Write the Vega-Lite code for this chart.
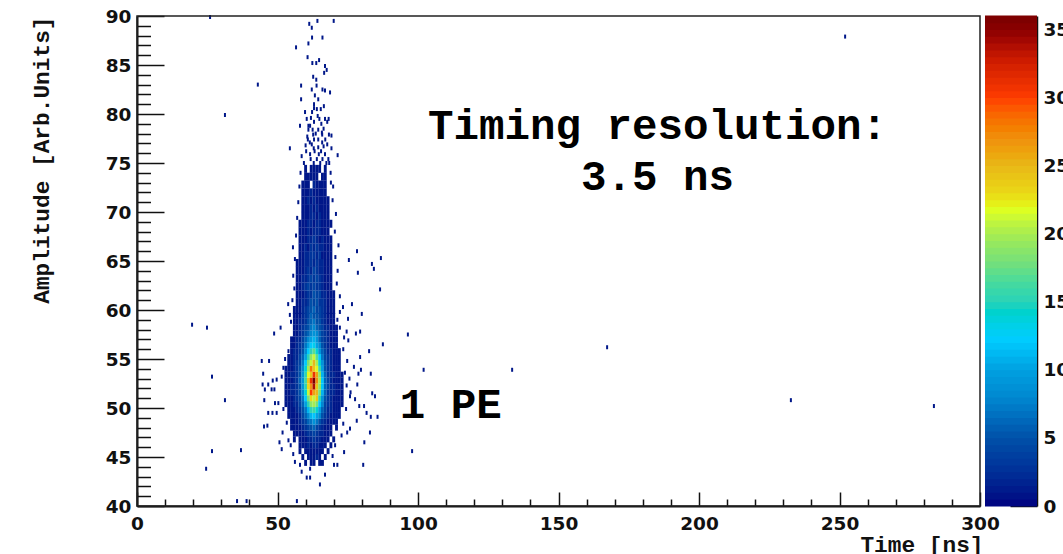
{"$schema":"https://vega.github.io/schema/vega-lite/v6.json","background":"white","padding":{"left":30,"top":7,"right":0,"bottom":0},"bounds":"flush","spacing":5,"config":{"view":{"stroke":null},"axis":{"labelFont":"DejaVu Sans","labelFontWeight":"bold","labelFontSize":18.5,"labelColor":"#111","titleFont":"Liberation Mono","titleFontWeight":"bold","titleFontSize":22.8,"titleColor":"#111","domainColor":"#111","tickColor":"#111","grid":false}},"datasets":{"upper":[
{"t":56,"a":60,"c":1},{"t":57,"a":60,"c":1},{"t":58,"a":60,"c":1},{"t":59,"a":60,"c":2},{"t":60,"a":60,"c":3},{"t":61,"a":60,"c":4},{"t":62,"a":60,"c":5},{"t":63,"a":60,"c":6},{"t":64,"a":60,"c":4},{"t":65,"a":60,"c":4},{"t":66,"a":60,"c":3},{"t":67,"a":60,"c":2},{"t":68,"a":60,"c":1},{"t":69,"a":60,"c":1},{"t":70,"a":60,"c":1},
{"t":57,"a":60.8,"c":1},{"t":58,"a":60.8,"c":1},{"t":59,"a":60.8,"c":2},{"t":60,"a":60.8,"c":2},{"t":61,"a":60.8,"c":3},{"t":62,"a":60.8,"c":5},{"t":63,"a":60.8,"c":4},{"t":64,"a":60.8,"c":5},{"t":65,"a":60.8,"c":3},{"t":66,"a":60.8,"c":3},{"t":67,"a":60.8,"c":2},{"t":68,"a":60.8,"c":1},{"t":69,"a":60.8,"c":1},{"t":70,"a":60.8,"c":1},
{"t":57,"a":61.6,"c":1},{"t":58,"a":61.6,"c":1},{"t":59,"a":61.6,"c":1},{"t":60,"a":61.6,"c":2},{"t":61,"a":61.6,"c":3},{"t":62,"a":61.6,"c":3},{"t":63,"a":61.6,"c":5},{"t":64,"a":61.6,"c":4},{"t":65,"a":61.6,"c":4},{"t":66,"a":61.6,"c":2},{"t":67,"a":61.6,"c":2},{"t":68,"a":61.6,"c":1},{"t":69,"a":61.6,"c":1},{"t":70,"a":61.6,"c":1},
{"t":57,"a":62.4,"c":1},{"t":58,"a":62.4,"c":1},{"t":59,"a":62.4,"c":2},{"t":60,"a":62.4,"c":3},{"t":61,"a":62.4,"c":4},{"t":62,"a":62.4,"c":3},{"t":63,"a":62.4,"c":4},{"t":64,"a":62.4,"c":3},{"t":65,"a":62.4,"c":3},{"t":66,"a":62.4,"c":2},{"t":67,"a":62.4,"c":1},{"t":68,"a":62.4,"c":1},{"t":69,"a":62.4,"c":1},
{"t":57,"a":63.2,"c":1},{"t":58,"a":63.2,"c":1},{"t":59,"a":63.2,"c":2},{"t":60,"a":63.2,"c":2},{"t":61,"a":63.2,"c":3},{"t":62,"a":63.2,"c":4},{"t":63,"a":63.2,"c":3},{"t":64,"a":63.2,"c":4},{"t":65,"a":63.2,"c":3},{"t":66,"a":63.2,"c":2},{"t":67,"a":63.2,"c":1},{"t":68,"a":63.2,"c":1},{"t":69,"a":63.2,"c":1},
{"t":57,"a":64,"c":1},{"t":58,"a":64,"c":1},{"t":59,"a":64,"c":1},{"t":60,"a":64,"c":2},{"t":61,"a":64,"c":3},{"t":62,"a":64,"c":2},{"t":63,"a":64,"c":4},{"t":64,"a":64,"c":3},{"t":65,"a":64,"c":2},{"t":66,"a":64,"c":2},{"t":67,"a":64,"c":1},{"t":68,"a":64,"c":1},{"t":69,"a":64,"c":1},
{"t":57,"a":64.8,"c":1},{"t":58,"a":64.8,"c":1},{"t":59,"a":64.8,"c":1},{"t":60,"a":64.8,"c":2},{"t":61,"a":64.8,"c":2},{"t":62,"a":64.8,"c":3},{"t":63,"a":64.8,"c":2},{"t":64,"a":64.8,"c":3},{"t":65,"a":64.8,"c":2},{"t":66,"a":64.8,"c":2},{"t":67,"a":64.8,"c":1},{"t":68,"a":64.8,"c":1},{"t":69,"a":64.8,"c":1},
{"t":58,"a":65.6,"c":1},{"t":59,"a":65.6,"c":1},{"t":60,"a":65.6,"c":2},{"t":61,"a":65.6,"c":2},{"t":62,"a":65.6,"c":3},{"t":63,"a":65.6,"c":3},{"t":64,"a":65.6,"c":2},{"t":65,"a":65.6,"c":3},{"t":66,"a":65.6,"c":1},{"t":67,"a":65.6,"c":1},{"t":68,"a":65.6,"c":1},{"t":69,"a":65.6,"c":1},
{"t":58,"a":66.4,"c":1},{"t":59,"a":66.4,"c":1},{"t":60,"a":66.4,"c":2},{"t":61,"a":66.4,"c":1},{"t":62,"a":66.4,"c":3},{"t":63,"a":66.4,"c":2},{"t":64,"a":66.4,"c":3},{"t":65,"a":66.4,"c":2},{"t":66,"a":66.4,"c":2},{"t":67,"a":66.4,"c":1},{"t":68,"a":66.4,"c":1},{"t":69,"a":66.4,"c":1},
{"t":58,"a":67.2,"c":1},{"t":59,"a":67.2,"c":1},{"t":60,"a":67.2,"c":1},{"t":61,"a":67.2,"c":2},{"t":62,"a":67.2,"c":2},{"t":63,"a":67.2,"c":3},{"t":64,"a":67.2,"c":2},{"t":65,"a":67.2,"c":1},{"t":66,"a":67.2,"c":2},{"t":67,"a":67.2,"c":1},{"t":68,"a":67.2,"c":1},{"t":69,"a":67.2,"c":1},
{"t":58,"a":68,"c":1},{"t":59,"a":68,"c":1},{"t":60,"a":68,"c":1},{"t":61,"a":68,"c":2},{"t":62,"a":68,"c":1},{"t":63,"a":68,"c":2},{"t":64,"a":68,"c":2},{"t":65,"a":68,"c":2},{"t":66,"a":68,"c":1},{"t":67,"a":68,"c":1},{"t":68,"a":68,"c":1},
{"t":58,"a":68.8,"c":1},{"t":59,"a":68.8,"c":1},{"t":60,"a":68.8,"c":1},{"t":61,"a":68.8,"c":2},{"t":62,"a":68.8,"c":2},{"t":63,"a":68.8,"c":1},{"t":64,"a":68.8,"c":2},{"t":65,"a":68.8,"c":2},{"t":66,"a":68.8,"c":1},{"t":67,"a":68.8,"c":1},{"t":68,"a":68.8,"c":1},{"t":69,"a":68.8,"c":1},
{"t":59,"a":69.6,"c":1},{"t":60,"a":69.6,"c":1},{"t":61,"a":69.6,"c":1},{"t":62,"a":69.6,"c":2},{"t":63,"a":69.6,"c":2},{"t":64,"a":69.6,"c":1},{"t":65,"a":69.6,"c":2},{"t":66,"a":69.6,"c":1},{"t":67,"a":69.6,"c":1},{"t":68,"a":69.6,"c":1},
{"t":59,"a":70.4,"c":1},{"t":60,"a":70.4,"c":1},{"t":61,"a":70.4,"c":1},{"t":62,"a":70.4,"c":2},{"t":63,"a":70.4,"c":1},{"t":64,"a":70.4,"c":2},{"t":65,"a":70.4,"c":1},{"t":66,"a":70.4,"c":1},{"t":67,"a":70.4,"c":1},{"t":68,"a":70.4,"c":1},
{"t":59,"a":71.2,"c":1},{"t":60,"a":71.2,"c":1},{"t":61,"a":71.2,"c":2},{"t":62,"a":71.2,"c":1},{"t":63,"a":71.2,"c":2},{"t":64,"a":71.2,"c":1},{"t":65,"a":71.2,"c":1},{"t":66,"a":71.2,"c":1},{"t":67,"a":71.2,"c":1},{"t":68,"a":71.2,"c":1},
{"t":59,"a":72,"c":1},{"t":60,"a":72,"c":1},{"t":61,"a":72,"c":1},{"t":62,"a":72,"c":2},{"t":63,"a":72,"c":1},{"t":64,"a":72,"c":1},{"t":65,"a":72,"c":1},{"t":66,"a":72,"c":1},{"t":67,"a":72,"c":1},
{"t":59,"a":72.8,"c":1},{"t":60,"a":72.8,"c":1},{"t":61,"a":72.8,"c":1},{"t":63,"a":72.8,"c":2},{"t":64,"a":72.8,"c":1},{"t":65,"a":72.8,"c":1},{"t":66,"a":72.8,"c":1},{"t":67,"a":72.8,"c":1},
{"t":60,"a":73.6,"c":1},{"t":61,"a":73.6,"c":1},{"t":62,"a":73.6,"c":1},{"t":63,"a":73.6,"c":1},{"t":64,"a":73.6,"c":1},{"t":66,"a":73.6,"c":1},{"t":67,"a":73.6,"c":1},
{"t":60,"a":74.4,"c":1},{"t":62,"a":74.4,"c":1},{"t":63,"a":74.4,"c":1},{"t":64,"a":74.4,"c":1},{"t":65,"a":74.4,"c":1},{"t":67,"a":74.4,"c":1}
],"core":[
{"t":60,"a":44.4,"c":1},{"t":62,"a":44.4,"c":1},{"t":63,"a":44.4,"c":1},{"t":65,"a":44.4,"c":1},{"t":66,"a":44.4,"c":1},
{"t":59,"a":45,"c":1},{"t":61,"a":45,"c":1},{"t":62,"a":45,"c":1},{"t":63,"a":45,"c":1},{"t":64,"a":45,"c":2},{"t":65,"a":45,"c":1},{"t":67,"a":45,"c":1},
{"t":58,"a":45.6,"c":1},{"t":60,"a":45.6,"c":1},{"t":61,"a":45.6,"c":1},{"t":62,"a":45.6,"c":1},{"t":63,"a":45.6,"c":1},{"t":64,"a":45.6,"c":1},{"t":65,"a":45.6,"c":1},{"t":66,"a":45.6,"c":1},{"t":68,"a":45.6,"c":1},
{"t":58,"a":46.2,"c":1},{"t":59,"a":46.2,"c":1},{"t":60,"a":46.2,"c":1},{"t":61,"a":46.2,"c":2},{"t":62,"a":46.2,"c":1},{"t":63,"a":46.2,"c":2},{"t":64,"a":46.2,"c":2},{"t":65,"a":46.2,"c":1},{"t":66,"a":46.2,"c":1},{"t":67,"a":46.2,"c":1},{"t":69,"a":46.2,"c":1},
{"t":56,"a":46.8,"c":1},{"t":58,"a":46.8,"c":1},{"t":59,"a":46.8,"c":1},{"t":60,"a":46.8,"c":1},{"t":61,"a":46.8,"c":2},{"t":62,"a":46.8,"c":2},{"t":63,"a":46.8,"c":3},{"t":64,"a":46.8,"c":2},{"t":65,"a":46.8,"c":2},{"t":66,"a":46.8,"c":1},{"t":67,"a":46.8,"c":1},{"t":68,"a":46.8,"c":1},{"t":70,"a":46.8,"c":1},
{"t":56,"a":47.4,"c":1},{"t":57,"a":47.4,"c":1},{"t":58,"a":47.4,"c":1},{"t":59,"a":47.4,"c":1},{"t":60,"a":47.4,"c":2},{"t":61,"a":47.4,"c":3},{"t":62,"a":47.4,"c":3},{"t":63,"a":47.4,"c":4},{"t":64,"a":47.4,"c":3},{"t":65,"a":47.4,"c":2},{"t":66,"a":47.4,"c":2},{"t":67,"a":47.4,"c":1},{"t":68,"a":47.4,"c":1},{"t":69,"a":47.4,"c":1},
{"t":55,"a":48,"c":1},{"t":56,"a":48,"c":1},{"t":57,"a":48,"c":1},{"t":58,"a":48,"c":1},{"t":59,"a":48,"c":2},{"t":60,"a":48,"c":3},{"t":61,"a":48,"c":4},{"t":62,"a":48,"c":5},{"t":63,"a":48,"c":6},{"t":64,"a":48,"c":4},{"t":65,"a":48,"c":3},{"t":66,"a":48,"c":2},{"t":67,"a":48,"c":1},{"t":68,"a":48,"c":1},{"t":69,"a":48,"c":1},{"t":71,"a":48,"c":1},
{"t":55,"a":48.6,"c":1},{"t":56,"a":48.6,"c":1},{"t":57,"a":48.6,"c":1},{"t":58,"a":48.6,"c":2},{"t":59,"a":48.6,"c":3},{"t":60,"a":48.6,"c":4},{"t":61,"a":48.6,"c":6},{"t":62,"a":48.6,"c":7},{"t":63,"a":48.6,"c":9},{"t":64,"a":48.6,"c":7},{"t":65,"a":48.6,"c":5},{"t":66,"a":48.6,"c":3},{"t":67,"a":48.6,"c":2},{"t":68,"a":48.6,"c":1},{"t":69,"a":48.6,"c":1},{"t":70,"a":48.6,"c":1},{"t":71,"a":48.6,"c":1},
{"t":54,"a":49.2,"c":1},{"t":55,"a":49.2,"c":1},{"t":56,"a":49.2,"c":1},{"t":57,"a":49.2,"c":1},{"t":58,"a":49.2,"c":2},{"t":59,"a":49.2,"c":4},{"t":60,"a":49.2,"c":6},{"t":61,"a":49.2,"c":8},{"t":62,"a":49.2,"c":11},{"t":63,"a":49.2,"c":12},{"t":64,"a":49.2,"c":10},{"t":65,"a":49.2,"c":8},{"t":66,"a":49.2,"c":5},{"t":67,"a":49.2,"c":3},{"t":68,"a":49.2,"c":2},{"t":69,"a":49.2,"c":1},{"t":70,"a":49.2,"c":1},{"t":71,"a":49.2,"c":1},{"t":72,"a":49.2,"c":1},
{"t":54,"a":49.8,"c":1},{"t":55,"a":49.8,"c":1},{"t":56,"a":49.8,"c":1},{"t":57,"a":49.8,"c":2},{"t":58,"a":49.8,"c":3},{"t":59,"a":49.8,"c":5},{"t":60,"a":49.8,"c":7},{"t":61,"a":49.8,"c":11},{"t":62,"a":49.8,"c":15},{"t":63,"a":49.8,"c":16},{"t":64,"a":49.8,"c":14},{"t":65,"a":49.8,"c":10},{"t":66,"a":49.8,"c":6},{"t":67,"a":49.8,"c":4},{"t":68,"a":49.8,"c":2},{"t":69,"a":49.8,"c":2},{"t":70,"a":49.8,"c":1},{"t":71,"a":49.8,"c":1},{"t":72,"a":49.8,"c":1},
{"t":53,"a":50.4,"c":1},{"t":54,"a":50.4,"c":1},{"t":55,"a":50.4,"c":1},{"t":56,"a":50.4,"c":2},{"t":57,"a":50.4,"c":2},{"t":58,"a":50.4,"c":4},{"t":59,"a":50.4,"c":6},{"t":60,"a":50.4,"c":10},{"t":61,"a":50.4,"c":15},{"t":62,"a":50.4,"c":19},{"t":63,"a":50.4,"c":20},{"t":64,"a":50.4,"c":18},{"t":65,"a":50.4,"c":12},{"t":66,"a":50.4,"c":8},{"t":67,"a":50.4,"c":4},{"t":68,"a":50.4,"c":3},{"t":69,"a":50.4,"c":2},{"t":70,"a":50.4,"c":1},{"t":71,"a":50.4,"c":1},{"t":72,"a":50.4,"c":1},{"t":73,"a":50.4,"c":1},
{"t":53,"a":51,"c":1},{"t":54,"a":51,"c":1},{"t":55,"a":51,"c":1},{"t":56,"a":51,"c":2},{"t":57,"a":51,"c":3},{"t":58,"a":51,"c":4},{"t":59,"a":51,"c":7},{"t":60,"a":51,"c":12},{"t":61,"a":51,"c":18},{"t":62,"a":51,"c":23},{"t":63,"a":51,"c":21},{"t":64,"a":51,"c":24},{"t":65,"a":51,"c":15},{"t":66,"a":51,"c":9},{"t":67,"a":51,"c":5},{"t":68,"a":51,"c":3},{"t":69,"a":51,"c":2},{"t":70,"a":51,"c":1},{"t":71,"a":51,"c":1},{"t":72,"a":51,"c":1},{"t":73,"a":51,"c":1},
{"t":53,"a":51.6,"c":1},{"t":54,"a":51.6,"c":1},{"t":55,"a":51.6,"c":2},{"t":56,"a":51.6,"c":2},{"t":57,"a":51.6,"c":3},{"t":58,"a":51.6,"c":5},{"t":59,"a":51.6,"c":8},{"t":60,"a":51.6,"c":14},{"t":61,"a":51.6,"c":21},{"t":62,"a":51.6,"c":30},{"t":63,"a":51.6,"c":26},{"t":64,"a":51.6,"c":25},{"t":65,"a":51.6,"c":18},{"t":66,"a":51.6,"c":11},{"t":67,"a":51.6,"c":6},{"t":68,"a":51.6,"c":3},{"t":69,"a":51.6,"c":2},{"t":70,"a":51.6,"c":2},{"t":71,"a":51.6,"c":1},{"t":72,"a":51.6,"c":1},{"t":73,"a":51.6,"c":1},
{"t":53,"a":52.2,"c":1},{"t":54,"a":52.2,"c":1},{"t":55,"a":52.2,"c":2},{"t":56,"a":52.2,"c":2},{"t":57,"a":52.2,"c":3},{"t":58,"a":52.2,"c":5},{"t":59,"a":52.2,"c":9},{"t":60,"a":52.2,"c":15},{"t":61,"a":52.2,"c":23},{"t":62,"a":52.2,"c":27},{"t":63,"a":52.2,"c":34},{"t":64,"a":52.2,"c":24},{"t":65,"a":52.2,"c":19},{"t":66,"a":52.2,"c":12},{"t":67,"a":52.2,"c":6},{"t":68,"a":52.2,"c":4},{"t":69,"a":52.2,"c":2},{"t":70,"a":52.2,"c":2},{"t":71,"a":52.2,"c":1},{"t":72,"a":52.2,"c":1},{"t":73,"a":52.2,"c":1},
{"t":53,"a":52.8,"c":1},{"t":54,"a":52.8,"c":1},{"t":55,"a":52.8,"c":1},{"t":56,"a":52.8,"c":2},{"t":57,"a":52.8,"c":3},{"t":58,"a":52.8,"c":6},{"t":59,"a":52.8,"c":9},{"t":60,"a":52.8,"c":16},{"t":61,"a":52.8,"c":24},{"t":62,"a":52.8,"c":31},{"t":63,"a":52.8,"c":36},{"t":64,"a":52.8,"c":27},{"t":65,"a":52.8,"c":20},{"t":66,"a":52.8,"c":12},{"t":67,"a":52.8,"c":6},{"t":68,"a":52.8,"c":4},{"t":69,"a":52.8,"c":2},{"t":70,"a":52.8,"c":1},{"t":71,"a":52.8,"c":1},{"t":72,"a":52.8,"c":1},{"t":73,"a":52.8,"c":1},
{"t":53,"a":53.4,"c":1},{"t":54,"a":53.4,"c":1},{"t":55,"a":53.4,"c":2},{"t":56,"a":53.4,"c":2},{"t":57,"a":53.4,"c":3},{"t":58,"a":53.4,"c":5},{"t":59,"a":53.4,"c":9},{"t":60,"a":53.4,"c":15},{"t":61,"a":53.4,"c":22},{"t":62,"a":53.4,"c":24},{"t":63,"a":53.4,"c":31},{"t":64,"a":53.4,"c":26},{"t":65,"a":53.4,"c":19},{"t":66,"a":53.4,"c":11},{"t":67,"a":53.4,"c":6},{"t":68,"a":53.4,"c":3},{"t":69,"a":53.4,"c":2},{"t":70,"a":53.4,"c":2},{"t":71,"a":53.4,"c":1},{"t":72,"a":53.4,"c":1},{"t":73,"a":53.4,"c":1},
{"t":53,"a":54,"c":1},{"t":54,"a":54,"c":1},{"t":55,"a":54,"c":1},{"t":56,"a":54,"c":2},{"t":57,"a":54,"c":3},{"t":58,"a":54,"c":5},{"t":59,"a":54,"c":8},{"t":60,"a":54,"c":14},{"t":61,"a":54,"c":20},{"t":62,"a":54,"c":28},{"t":63,"a":54,"c":24},{"t":64,"a":54,"c":22},{"t":65,"a":54,"c":16},{"t":66,"a":54,"c":10},{"t":67,"a":54,"c":5},{"t":68,"a":54,"c":3},{"t":69,"a":54,"c":2},{"t":70,"a":54,"c":1},{"t":71,"a":54,"c":1},{"t":72,"a":54,"c":1},
{"t":54,"a":54.6,"c":1},{"t":55,"a":54.6,"c":1},{"t":56,"a":54.6,"c":2},{"t":57,"a":54.6,"c":3},{"t":58,"a":54.6,"c":4},{"t":59,"a":54.6,"c":7},{"t":60,"a":54.6,"c":12},{"t":61,"a":54.6,"c":18},{"t":62,"a":54.6,"c":21},{"t":63,"a":54.6,"c":25},{"t":64,"a":54.6,"c":20},{"t":65,"a":54.6,"c":14},{"t":66,"a":54.6,"c":9},{"t":67,"a":54.6,"c":5},{"t":68,"a":54.6,"c":3},{"t":69,"a":54.6,"c":2},{"t":70,"a":54.6,"c":1},{"t":71,"a":54.6,"c":1},{"t":72,"a":54.6,"c":1},
{"t":54,"a":55.2,"c":1},{"t":55,"a":55.2,"c":1},{"t":56,"a":55.2,"c":2},{"t":57,"a":55.2,"c":2},{"t":58,"a":55.2,"c":4},{"t":59,"a":55.2,"c":6},{"t":60,"a":55.2,"c":10},{"t":61,"a":55.2,"c":15},{"t":62,"a":55.2,"c":19},{"t":63,"a":55.2,"c":21},{"t":64,"a":55.2,"c":17},{"t":65,"a":55.2,"c":12},{"t":66,"a":55.2,"c":7},{"t":67,"a":55.2,"c":4},{"t":68,"a":55.2,"c":3},{"t":69,"a":55.2,"c":2},{"t":70,"a":55.2,"c":1},{"t":71,"a":55.2,"c":1},{"t":72,"a":55.2,"c":1},
{"t":55,"a":55.8,"c":1},{"t":56,"a":55.8,"c":2},{"t":57,"a":55.8,"c":2},{"t":58,"a":55.8,"c":3},{"t":59,"a":55.8,"c":5},{"t":60,"a":55.8,"c":8},{"t":61,"a":55.8,"c":12},{"t":62,"a":55.8,"c":15},{"t":63,"a":55.8,"c":17},{"t":64,"a":55.8,"c":14},{"t":65,"a":55.8,"c":9},{"t":66,"a":55.8,"c":6},{"t":67,"a":55.8,"c":4},{"t":68,"a":55.8,"c":2},{"t":69,"a":55.8,"c":2},{"t":70,"a":55.8,"c":1},{"t":71,"a":55.8,"c":1},{"t":72,"a":55.8,"c":1},
{"t":55,"a":56.4,"c":1},{"t":56,"a":56.4,"c":1},{"t":57,"a":56.4,"c":2},{"t":58,"a":56.4,"c":3},{"t":59,"a":56.4,"c":4},{"t":60,"a":56.4,"c":7},{"t":61,"a":56.4,"c":10},{"t":62,"a":56.4,"c":12},{"t":63,"a":56.4,"c":13},{"t":64,"a":56.4,"c":10},{"t":65,"a":56.4,"c":8},{"t":66,"a":56.4,"c":5},{"t":67,"a":56.4,"c":3},{"t":68,"a":56.4,"c":2},{"t":69,"a":56.4,"c":1},{"t":70,"a":56.4,"c":1},{"t":71,"a":56.4,"c":1},
{"t":55,"a":57,"c":1},{"t":56,"a":57,"c":1},{"t":57,"a":57,"c":2},{"t":58,"a":57,"c":2},{"t":59,"a":57,"c":4},{"t":60,"a":57,"c":6},{"t":61,"a":57,"c":8},{"t":62,"a":57,"c":10},{"t":63,"a":57,"c":11},{"t":64,"a":57,"c":9},{"t":65,"a":57,"c":6},{"t":66,"a":57,"c":4},{"t":67,"a":57,"c":3},{"t":68,"a":57,"c":2},{"t":69,"a":57,"c":1},{"t":70,"a":57,"c":1},{"t":71,"a":57,"c":1},
{"t":56,"a":57.6,"c":1},{"t":57,"a":57.6,"c":1},{"t":58,"a":57.6,"c":2},{"t":59,"a":57.6,"c":3},{"t":60,"a":57.6,"c":5},{"t":61,"a":57.6,"c":6},{"t":62,"a":57.6,"c":8},{"t":63,"a":57.6,"c":9},{"t":64,"a":57.6,"c":8},{"t":65,"a":57.6,"c":6},{"t":66,"a":57.6,"c":4},{"t":67,"a":57.6,"c":3},{"t":68,"a":57.6,"c":2},{"t":69,"a":57.6,"c":1},{"t":70,"a":57.6,"c":1},{"t":71,"a":57.6,"c":1},
{"t":56,"a":58.2,"c":1},{"t":57,"a":58.2,"c":1},{"t":58,"a":58.2,"c":2},{"t":59,"a":58.2,"c":3},{"t":60,"a":58.2,"c":4},{"t":61,"a":58.2,"c":5},{"t":62,"a":58.2,"c":7},{"t":63,"a":58.2,"c":8},{"t":64,"a":58.2,"c":6},{"t":65,"a":58.2,"c":5},{"t":66,"a":58.2,"c":4},{"t":67,"a":58.2,"c":2},{"t":68,"a":58.2,"c":2},{"t":69,"a":58.2,"c":1},{"t":70,"a":58.2,"c":1},{"t":71,"a":58.2,"c":1},
{"t":56,"a":58.8,"c":1},{"t":57,"a":58.8,"c":1},{"t":58,"a":58.8,"c":2},{"t":59,"a":58.8,"c":2},{"t":60,"a":58.8,"c":3},{"t":61,"a":58.8,"c":5},{"t":62,"a":58.8,"c":6},{"t":63,"a":58.8,"c":7},{"t":64,"a":58.8,"c":5},{"t":65,"a":58.8,"c":5},{"t":66,"a":58.8,"c":3},{"t":67,"a":58.8,"c":2},{"t":68,"a":58.8,"c":1},{"t":69,"a":58.8,"c":1},{"t":70,"a":58.8,"c":1},
{"t":56,"a":59.4,"c":1},{"t":57,"a":59.4,"c":1},{"t":58,"a":59.4,"c":1},{"t":59,"a":59.4,"c":2},{"t":60,"a":59.4,"c":3},{"t":61,"a":59.4,"c":4},{"t":62,"a":59.4,"c":6},{"t":63,"a":59.4,"c":5},{"t":64,"a":59.4,"c":5},{"t":65,"a":59.4,"c":4},{"t":66,"a":59.4,"c":3},{"t":67,"a":59.4,"c":2},{"t":68,"a":59.4,"c":1},{"t":69,"a":59.4,"c":1},{"t":70,"a":59.4,"c":1}
],"sparse":[
{"t":64.2,"a":89.5,"c":1},{"t":70,"a":89.5,"c":1},{"t":61.3,"a":89.2,"c":1},{"t":62.2,"a":88.8,"c":1},{"t":62.3,"a":87.8,"c":1},{"t":66,"a":87.8,"c":1},{"t":61,"a":87.2,"c":1},{"t":56.6,"a":86.8,"c":1},{"t":60.7,"a":85.8,"c":1},{"t":64.8,"a":85.5,"c":1},{"t":62.4,"a":85.2,"c":1},{"t":63.8,"a":85.2,"c":1},{"t":66.9,"a":84.9,"c":1},{"t":67.5,"a":84.5,"c":1},{"t":66.6,"a":84.2,"c":1},{"t":62.7,"a":83.8,"c":1},{"t":63.8,"a":83.5,"c":1},{"t":58.4,"a":82.9,"c":1},{"t":62.2,"a":82.5,"c":1},{"t":63.9,"a":82.9,"c":1},{"t":66,"a":82.5,"c":1},{"t":66.9,"a":82.4,"c":1},{"t":68.7,"a":82.2,"c":1},{"t":58.4,"a":81.5,"c":1},{"t":63.3,"a":81.9,"c":1},{"t":64.5,"a":81.5,"c":1},{"t":63,"a":81,"c":1},{"t":63,"a":80.6,"c":1},{"t":64,"a":80.5,"c":1},{"t":65.4,"a":80.5,"c":1},{"t":66.5,"a":80.8,"c":1},{"t":59.8,"a":80.2,"c":1},{"t":62.3,"a":80.2,"c":1},{"t":64.3,"a":79.8,"c":1},{"t":60.4,"a":79.5,"c":1},{"t":64.9,"a":79.5,"c":1},{"t":66.9,"a":79.5,"c":1},{"t":68.2,"a":79.5,"c":1},{"t":63,"a":79.2,"c":1},{"t":67.7,"a":79.2,"c":1},{"t":58,"a":78.8,"c":1},{"t":61,"a":78.8,"c":1},{"t":61.6,"a":78.8,"c":1},{"t":66.4,"a":78.5,"c":1},{"t":62.5,"a":78.4,"c":1},{"t":64.5,"a":78.4,"c":1},{"t":65.8,"a":78.1,"c":1},{"t":61,"a":78.4,"c":1},{"t":62.7,"a":77.9,"c":1},{"t":65.9,"a":77.9,"c":1},{"t":68.3,"a":77.9,"c":1},{"t":69.2,"a":77.8,"c":1},{"t":60.8,"a":77.4,"c":1},{"t":63,"a":77.4,"c":1},{"t":64.5,"a":77.4,"c":1},{"t":67,"a":77.4,"c":1},{"t":61.5,"a":77.1,"c":1},{"t":65.9,"a":77.1,"c":1},{"t":54.4,"a":76.5,"c":1},{"t":60,"a":76.8,"c":1},{"t":62.9,"a":76.5,"c":1},{"t":64.5,"a":76.6,"c":1},{"t":66.4,"a":76.7,"c":1},{"t":69.2,"a":76.5,"c":1},{"t":60.2,"a":76.2,"c":1},{"t":63.2,"a":76.2,"c":1},{"t":65.5,"a":76.2,"c":1},{"t":71.4,"a":75.8,"c":1},{"t":61.6,"a":75.9,"c":1},{"t":64.7,"a":75.9,"c":1},{"t":66.9,"a":75.9,"c":1},{"t":61.8,"a":75.4,"c":1},{"t":64,"a":75.4,"c":1},{"t":66,"a":75.4,"c":1},{"t":68.1,"a":75.4,"c":1},{"t":59.4,"a":75,"c":1},{"t":62.9,"a":75,"c":1},{"t":65.2,"a":75,"c":1},{"t":67.4,"a":75,"c":1},{"t":60.6,"a":77.7,"c":1},{"t":62.2,"a":76.9,"c":1},{"t":67.7,"a":76.9,"c":1},{"t":63.6,"a":78,"c":1},{"t":61.9,"a":79.6,"c":1},{"t":65.6,"a":79,"c":1},
{"t":55.3,"a":61,"c":1},{"t":56,"a":62.2,"c":1},{"t":55.6,"a":63.5,"c":1},{"t":56.2,"a":65.2,"c":1},{"t":55.5,"a":66.4,"c":1},{"t":56.6,"a":67.6,"c":1},{"t":57,"a":69.4,"c":1},{"t":57.4,"a":71,"c":1},{"t":57.8,"a":72.6,"c":1},{"t":58.2,"a":74,"c":1},{"t":71.1,"a":62.7,"c":1},{"t":71.4,"a":64,"c":1},{"t":70.6,"a":65.4,"c":1},{"t":71.7,"a":66.6,"c":1},{"t":70.4,"a":68,"c":1},{"t":70.8,"a":69.8,"c":1},{"t":69.6,"a":71.2,"c":1},{"t":69.8,"a":72.6,"c":1},{"t":68.9,"a":74,"c":1},{"t":72.2,"a":61.4,"c":1},{"t":73.3,"a":60.3,"c":1},{"t":53.8,"a":60.6,"c":1},{"t":69,"a":73,"c":1},{"t":68.4,"a":75,"c":1},{"t":58.6,"a":75.7,"c":1},
{"t":26,"a":89.9,"c":1},{"t":252,"a":87.9,"c":1},{"t":43,"a":83,"c":1},{"t":31.3,"a":79.9,"c":1},{"t":19.6,"a":58.5,"c":1},{"t":24.9,"a":58.2,"c":1},{"t":96.4,"a":57.5,"c":1},{"t":167.3,"a":56.2,"c":1},{"t":87.5,"a":56.5,"c":1},{"t":102,"a":53.9,"c":1},{"t":133.5,"a":53.9,"c":1},{"t":232.7,"a":50.8,"c":1},{"t":283.6,"a":50.2,"c":1},{"t":97.9,"a":45.6,"c":1},{"t":26.7,"a":53.2,"c":1},{"t":31.3,"a":50.8,"c":1},{"t":26.7,"a":45.6,"c":1},{"t":24.6,"a":43.8,"c":1},{"t":37,"a":45.7,"c":1},{"t":35.6,"a":40.5,"c":1},{"t":39,"a":40.5,"c":1},{"t":56.9,"a":40.5,"c":1},{"t":83.6,"a":64.7,"c":1},{"t":84.3,"a":64.2,"c":1},{"t":86.8,"a":65.3,"c":1},{"t":86.5,"a":62.1,"c":1},{"t":78.6,"a":63.8,"c":1},{"t":78.3,"a":66,"c":1},{"t":75.4,"a":65.1,"c":1},{"t":76.5,"a":60.6,"c":1},{"t":75.1,"a":59.1,"c":1},{"t":80,"a":59.6,"c":1},
{"t":44.4,"a":54.8,"c":1},{"t":47,"a":54.8,"c":1},{"t":44.9,"a":53.5,"c":1},{"t":48.3,"a":52.8,"c":1},{"t":49.7,"a":52.9,"c":1},{"t":44.7,"a":52.4,"c":1},{"t":46.7,"a":52.4,"c":1},{"t":45.5,"a":51.9,"c":1},{"t":47.9,"a":51.9,"c":1},{"t":48.9,"a":51.9,"c":1},{"t":45.3,"a":50.8,"c":1},{"t":49.1,"a":50.5,"c":1},{"t":50.3,"a":50.5,"c":1},{"t":46.7,"a":49.5,"c":1},{"t":48.2,"a":49.5,"c":1},{"t":49.7,"a":49.5,"c":1},{"t":45.2,"a":48.1,"c":1},{"t":46.4,"a":48.2,"c":1},{"t":50.7,"a":46.5,"c":1},{"t":51.5,"a":45.8,"c":1},{"t":56.2,"a":44.5,"c":1},{"t":58,"a":44.2,"c":1},{"t":58.6,"a":43.5,"c":1},{"t":61.6,"a":43.8,"c":1},{"t":60.4,"a":42.9,"c":1},{"t":61.6,"a":42.9,"c":1},{"t":65.1,"a":42.2,"c":1},{"t":66.9,"a":43.2,"c":1},{"t":70.1,"a":44.2,"c":1},{"t":71.3,"a":44.2,"c":1},{"t":73.7,"a":45.5,"c":1},{"t":80.5,"a":44.2,"c":1},{"t":80.9,"a":46.5,"c":1},{"t":82.9,"a":47.5,"c":1},{"t":75.8,"a":47.9,"c":1},{"t":74.8,"a":47.5,"c":1},{"t":78.2,"a":48.7,"c":1},{"t":81.7,"a":49.5,"c":1},{"t":83.2,"a":49.1,"c":1},{"t":85.6,"a":49.1,"c":1},{"t":80.8,"a":50.2,"c":1},{"t":79.1,"a":50.2,"c":1},{"t":84.7,"a":51.2,"c":1},{"t":83.7,"a":51.5,"c":1},{"t":77.6,"a":50.9,"c":1},{"t":75.8,"a":51.2,"c":1},{"t":78.4,"a":52.4,"c":1},{"t":78.8,"a":53.5,"c":1},{"t":79.7,"a":53.9,"c":1},{"t":77.2,"a":54.2,"c":1},{"t":83.2,"a":53.5,"c":1},{"t":79.4,"a":55.2,"c":1},{"t":82.6,"a":55.8,"c":1},{"t":77.9,"a":57.6,"c":1},{"t":79.4,"a":57.8,"c":1},{"t":74.6,"a":57.8,"c":1},{"t":72.2,"a":59.8,"c":1},{"t":51.1,"a":58.2,"c":1},{"t":48.8,"a":57.6,"c":1},{"t":54.4,"a":59.5,"c":1},{"t":54.8,"a":58.8,"c":1},{"t":51.5,"a":53.2,"c":1},{"t":52.1,"a":54.1,"c":1},{"t":52.7,"a":55,"c":1},{"t":53.9,"a":55.8,"c":1},{"t":52.1,"a":49.9,"c":1},{"t":53.3,"a":48.5,"c":1},{"t":51.8,"a":47.5,"c":1},{"t":53.9,"a":46.7,"c":1},{"t":54.7,"a":46.2,"c":1},{"t":55.6,"a":45.3,"c":1},{"t":74.6,"a":52.3,"c":1},{"t":75.6,"a":53,"c":1},{"t":74,"a":53.6,"c":1},{"t":74.8,"a":54.8,"c":1},{"t":73.4,"a":56,"c":1},{"t":75.2,"a":56.9,"c":1},{"t":73.7,"a":57.2,"c":1},{"t":72.2,"a":58.2,"c":1},{"t":71.3,"a":59,"c":1},{"t":76,"a":51.6,"c":1},{"t":74.4,"a":49.9,"c":1},{"t":73.4,"a":48.4,"c":1},{"t":72.8,"a":47.2,"c":1},{"t":70.5,"a":46.2,"c":1},{"t":69.6,"a":45.1,"c":1}
],"notes":[{"t":185.2,"a":78.8,"s":"Timing resolution:"},{"t":185.2,"a":73.6,"s":"3.5 ns"},{"t":111.7,"a":50.3,"s":"1 PE"}],"bar":[{"v":0.25},{"v":0.75},{"v":1.25},{"v":1.75},{"v":2.25},{"v":2.75},{"v":3.25},{"v":3.75},{"v":4.25},{"v":4.75},{"v":5.25},{"v":5.75},{"v":6.25},{"v":6.75},{"v":7.25},{"v":7.75},{"v":8.25},{"v":8.75},{"v":9.25},{"v":9.75},{"v":10.25},{"v":10.75},{"v":11.25},{"v":11.75},{"v":12.25},{"v":12.75},{"v":13.25},{"v":13.75},{"v":14.25},{"v":14.75},{"v":15.25},{"v":15.75},{"v":16.25},{"v":16.75},{"v":17.25},{"v":17.75},{"v":18.25},{"v":18.75},{"v":19.25},{"v":19.75},{"v":20.25},{"v":20.75},{"v":21.25},{"v":21.75},{"v":22.25},{"v":22.75},{"v":23.25},{"v":23.75},{"v":24.25},{"v":24.75},{"v":25.25},{"v":25.75},{"v":26.25},{"v":26.75},{"v":27.25},{"v":27.75},{"v":28.25},{"v":28.75},{"v":29.25},{"v":29.75},{"v":30.25},{"v":30.75},{"v":31.25},{"v":31.75},{"v":32.25},{"v":32.75},{"v":33.25},{"v":33.75},{"v":34.25},{"v":34.75},{"v":35.25},{"v":35.75}]},"hconcat":[{"width":843,"height":490,"resolve":{"axis":{"x":"independent","y":"independent"}},"layer":[{"data":{"name":"upper"},"mark":{"type":"rect","width":2.9,"height":8},"encoding":{"x":{"field":"t","type":"quantitative","scale":{"domain":[0,300],"nice":false},"axis":{"orient":"bottom","values":[0,50,100,150,200,250,300],"tickSize":-14,"tickWidth":1.5,"domainWidth":2,"labelPadding":22,"labelFlush":false,"title":"Time [ns]","titleAnchor":"end","titleAlign":"right","titleX":846,"titlePadding":1}},"y":{"field":"a","type":"quantitative","scale":{"domain":[40,90],"nice":false},"axis":{"orient":"left","values":[40,45,50,55,60,65,70,75,80,85,90],"tickSize":-27,"tickWidth":1.5,"domainWidth":2,"labelPadding":33,"labelFlush":false,"title":"Amplitude [Arb.Units]","titleAnchor":"end","titlePadding":52}},"color":{"field":"c","type":"quantitative","legend":null,"scale":{"domain":[0,5,8,10,12.2,15,18,20,21.8,23,25,27,30,33,35,36],"range":["#00007f","#0050a8","#0088d0","#00a0e0","#00ccff","#2cd2b8","#78e078","#a8ec50","#dfff20","#ead818","#e8b818","#f09010","#ff3c00","#c81800","#8c0000","#7a0000"]}}}},{"data":{"name":"core"},"mark":{"type":"rect","width":2.9,"height":6},"encoding":{"x":{"field":"t","type":"quantitative","axis":null},"y":{"field":"a","type":"quantitative","axis":null},"color":{"field":"c","type":"quantitative","legend":null}}},{"data":{"name":"sparse"},"mark":{"type":"rect","width":2,"height":4},"encoding":{"x":{"field":"t","type":"quantitative","axis":null},"y":{"field":"a","type":"quantitative","axis":null},"color":{"field":"c","type":"quantitative","legend":null}}},{"data":{"name":"notes"},"mark":{"type":"text","font":"Liberation Mono","fontWeight":"bold","fontSize":42.5,"color":"#000"},"encoding":{"x":{"field":"t","type":"quantitative","axis":{"orient":"bottom","values":[10,20,30,40,60,70,80,90,110,120,130,140,160,170,180,190,210,220,230,240,260,270,280,290],"tickSize":-7,"tickWidth":1.5,"labels":false,"domain":false,"title":null}},"y":{"field":"a","type":"quantitative","axis":{"orient":"left","values":[41,42,43,44,46,47,48,49,51,52,53,54,56,57,58,59,61,62,63,64,66,67,68,69,71,72,73,74,76,77,78,79,81,82,83,84,86,87,88,89],"tickSize":-13.5,"tickWidth":1.5,"labels":false,"domain":false,"title":null}},"text":{"field":"s","type":"nominal"}}},{"data":{"values":[{"t":0,"t2":300,"a":40,"a2":90}]},"mark":{"type":"rect","fill":null,"stroke":"#222","strokeWidth":1.5},"encoding":{"x":{"field":"t","type":"quantitative","axis":null},"x2":{"field":"t2"},"y":{"field":"a","type":"quantitative","axis":null},"y2":{"field":"a2"}}}]},{"width":52,"height":490,"data":{"name":"bar"},"mark":{"type":"rect","height":7.6},"encoding":{"y":{"field":"v","type":"quantitative","scale":{"domain":[0,36],"nice":false},"axis":{"orient":"right","values":[0,5,10,15,20,25,30,35],"format":"d","tickSize":-27,"tickWidth":1.5,"domainWidth":1.5,"labelPadding":33,"labelFlush":false,"title":null}},"color":{"field":"v","type":"quantitative","legend":null,"scale":{"domain":[0,5,8,10,12.2,15,18,20,21.8,23,25,27,30,33,35,36],"range":["#00007f","#0050a8","#0088d0","#00a0e0","#00ccff","#2cd2b8","#78e078","#a8ec50","#dfff20","#ead818","#e8b818","#f09010","#ff3c00","#c81800","#8c0000","#7a0000"]}}}}]}
